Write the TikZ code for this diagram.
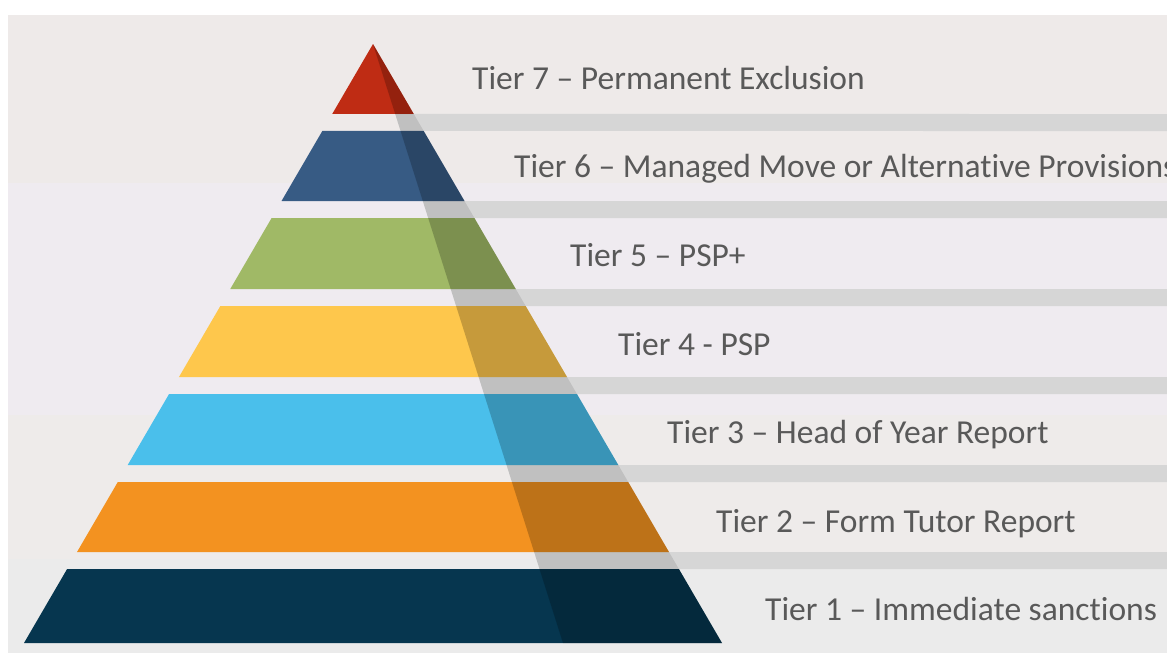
\documentclass[tikz,border=0pt]{standalone}
\usepackage{fontspec}
\setmainfont{Carlito}[Ligatures=NoCommon]
\usetikzlibrary{calc}

\definecolor{bgA}{HTML}{EEEAE9}
\definecolor{bgB}{HTML}{EFEBF0}
\definecolor{bgC}{HTML}{EEEBEA}
\definecolor{bgD}{HTML}{EBEBEB}
\definecolor{stripgray}{HTML}{D6D6D6}
\definecolor{labelgray}{HTML}{595959}
\definecolor{tierred}{HTML}{BF2C14}
\definecolor{tierblue}{HTML}{375B84}
\definecolor{tiergreen}{HTML}{A0B966}
\definecolor{tieryellow}{HTML}{FEC74C}
\definecolor{tiercyan}{HTML}{4ABFEB}
\definecolor{tierorange}{HTML}{F39220}
\definecolor{tiernavy}{HTML}{06364F}

\tikzset{
  tierlabel/.style={anchor=base west, inner sep=0pt, text=labelgray,
                    font=\fontsize{33.5}{40}\selectfont},
}

\begin{document}
\begin{tikzpicture}[x=1pt, y=-1pt]
  \useasboundingbox (0,0) rectangle (1167,653);

  % backdrop with its faint horizontal bands
  \fill[bgA] (8,15)  rectangle (1167,183);
  \fill[bgB] (8,183) rectangle (1167,415);
  \fill[bgC] (8,415) rectangle (1167,559);
  \fill[bgD] (8,559) rectangle (1167,653);

  % pyramid outline and the line that bounds its shaded right face
  \coordinate (apex) at (373,44);
  \coordinate (bl) at (24,643);
  \coordinate (br) at (722,643);
  \coordinate (dd) at (563,643);

  % grey strips in the gaps between tiers
  \foreach \gt/\gb in {114/131, 201/218, 289/306, 377/394, 465/482, 552/569}{
    \pgfmathsetmacro\ft{(\gt-44)/599}
    \pgfmathsetmacro\fb{(\gb-44)/599}
    \fill[stripgray] ($(apex)!\ft!(dd)$) -- (1167,\gt) -- (1167,\gb)
                     -- ($(apex)!\fb!(dd)$) -- cycle;
  }

  % the seven tiers
  \foreach \tt/\tb/\col in {44/114/tierred, 131/201/tierblue, 218/289/tiergreen,
                            306/377/tieryellow, 394/465/tiercyan,
                            482/552/tierorange, 569/643/tiernavy}{
    \pgfmathsetmacro\ft{(\tt-44)/599}
    \pgfmathsetmacro\fb{(\tb-44)/599}
    \fill[\col] ($(apex)!\ft!(bl)$) -- ($(apex)!\ft!(br)$)
                -- ($(apex)!\fb!(br)$) -- ($(apex)!\fb!(bl)$) -- cycle;
  }

  % shaded right face: light over the gaps, deeper over the tiers
  \fill[black, opacity=0.1] (apex) -- (dd) -- (br) -- cycle;
  \begin{scope}
    \clip (apex) -- (dd) -- (br) -- cycle;
    \fill[black, opacity=0.13]
      \foreach \tt/\tb in {44/114, 131/201, 218/289, 306/377, 394/465, 482/552, 569/643}{
        (0,\tt) rectangle (800,\tb)
      };
  \end{scope}

  % tier labels
  \node[tierlabel] (t7) at (472,89.3)  {Tier 7 – Permanent Exclusion};
  \node[tierlabel] (t6) at (514,177.9) {Tier 6 – Managed Move or Alternative Provisions};
  \node[tierlabel] (t5) at (570,266.4) {Tier 5 – PSP+};
  \node[tierlabel] (t4) at (618,355.0) {Tier 4 - PSP};
  \node[tierlabel] (t3) at (667,443.6) {Tier 3 – Head of Year Report};
  \node[tierlabel] (t2) at (716,532.1) {Tier 2 – Form Tutor Report};
  \node[tierlabel] (t1) at (765,620.7) {Tier 1 – Immediate sanctions};
\end{tikzpicture}
\end{document}
